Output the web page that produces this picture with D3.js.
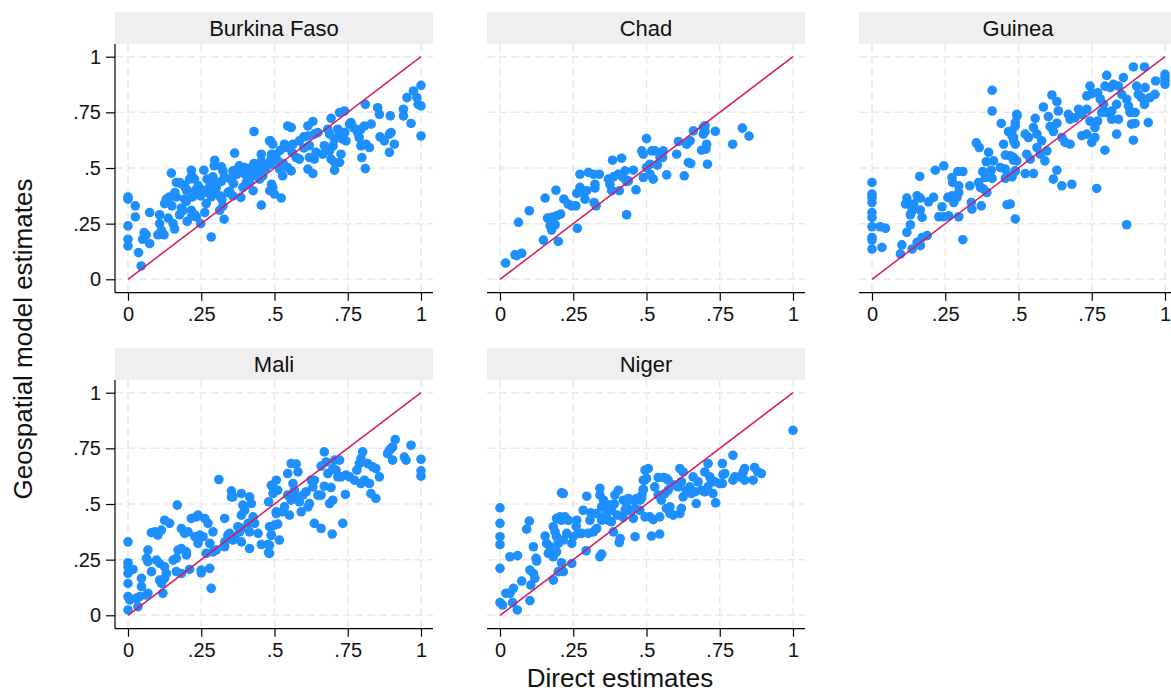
<!DOCTYPE html>
<html>
<head>
<meta charset="utf-8">
<script src="https://cdn.jsdelivr.net/npm/d3@7"></script>
<style>
  html, body { margin: 0; padding: 0; background: #fff; }
  svg { display: block; font-family: "Liberation Sans", Arial, sans-serif; }
</style>
</head>
<body>
<svg id="chart" width="1171" height="698"></svg>
<script>
// Valeurs : [estimation directe, estimation géospatiale]
const burkinaFaso = [[0,.37],[0,.36],[.025,.33],[.025,.28],[0,.24],[0,.18],[0,.15],[.036,.12],[.045,.06],[.055,.21],[.062,.2],[.05,.18],[.074,.16],[.074,.30],[.108,.29],[.108,.25],[.114,.22],[.102,.20],[.123,.2],[.137,.275],[.154,.25],[.159,.226],[.131,.36],[.125,.34],[.142,.37],[.148,.477],[.165,.435],[.176,.435],[.165,.37],[.193,.36],[.199,.35],[.182,.32],[.188,.31],[.176,.29],[.202,.26],[.216,.49],[.218,.465],[.21,.45],[.227,.45],[.193,.42],[.199,.405],[.216,.31],[.227,.29],[.233,.28],[.218,.285],[.259,.49],[.3,.43],[.256,.40],[.248,.375],[.273,.39],[.267,.34],[.262,.3],[.284,.37],[.296,.39],[.248,.25],[.284,.19],[.296,.535],[.294,.51],[.307,.435],[.319,.44],[.301,.41],[.313,.375],[.324,.33],[.313,.31],[.328,.27],[.319,.505],[.324,.487],[.341,.39],[.347,.395],[.358,.375],[.364,.567],[.358,.487],[.373,.495],[.385,.368],[.392,.413],[.398,.502],[.41,.495],[.421,.502],[.432,.48],[.404,.435],[.415,.435],[.43,.664],[.427,.398],[.455,.562],[.455,.532],[.449,.45],[.46,.465],[.455,.333],[.487,.622],[.49,.562],[.484,.525],[.49,.427],[.484,.398],[.37,.47],[.39,.48],[.44,.5],[.45,.51],[.47,.5],[.43,.52],[.35,.45],[.33,.46],[.28,.42],[.24,.42],[.2,.4],[.16,.39],[.27,.45],[.29,.46],[.36,.43],[.4,.47],[.42,.46],[.46,.49],[.38,.51],[.23,.4],[.18,.43],[.15,.33],[.22,.37],[.32,.36],
  [.483,.622],[.494,.607],[.506,.562],[.489,.547],[.489,.517],[.511,.532],[.494,.413],[.5,.383],[.523,.365],[.545,.689],[.557,.682],[.534,.607],[.545,.592],[.563,.607],[.585,.622],[.517,.495],[.528,.465],[.545,.502],[.557,.487],[.574,.547],[.585,.54],[.614,.689],[.631,.709],[.614,.644],[.619,.6],[.636,.652],[.648,.659],[.619,.547],[.642,.57],[.636,.54],[.665,.562],[.688,.577],[.614,.495],[.631,.475],[.693,.723],[.682,.674],[.688,.652],[.705,.63],[.716,.674],[.722,.652],[.733,.63],[.744,.622],[.693,.54],[.705,.525],[.722,.525],[.705,.49],[.727,.562],[.722,.749],[.739,.756],[.756,.697],[.761,.704],[.784,.659],[.795,.674],[.807,.689],[.83,.697],[.789,.637],[.795,.6],[.812,.607],[.824,.592],[.798,.547],[.81,.497],[.81,.786],[.852,.771],[.858,.741],[.875,.622],[.892,.652],[.898,.659],[.892,.57],[.909,.607],[.895,.734],[.94,.764],[.94,.734],[.966,.7],[.952,.816],[.974,.846],[.986,.816],[.99,.786],[1.0,.779],[1.0,.871],[1.0,.644],[.52,.58],[.53,.52],[.56,.57],[.6,.59],[.6,.64],[.67,.6],[.7,.6],[.74,.66],[.77,.68],[.86,.64]];

const chad = [[.019,.073],[.051,.11],[.057,.106],[.074,.117],[.063,.256],[.1,.308],[.148,.176],[.154,.365],[.162,.275],[.177,.278],[.193,.285],[.207,.293],[.171,.241],[.188,.245],[.176,.221],[.199,.17],[.191,.4],[.218,.36],[.233,.338],[.245,.33],[.259,.33],[.264,.229],[.262,.386],[.273,.413],[.284,.39],[.29,.36],[.296,.398],[.273,.472],[.302,.48],[.319,.472],[.339,.472],[.324,.427],[.324,.41],[.321,.345],[.328,.33],[.37,.45],[.375,.427],[.381,.398],[.387,.46],[.384,.535],[.415,.544],[.404,.472],[.415,.465],[.427,.487],[.438,.442],[.407,.398],[.432,.439],[.421,.457],[.455,.49],[.432,.29],[.464,.402],[.484,.577],[.489,.562],[.5,.632],[.489,.457],[.5,.502],[.512,.517],[.512,.472],[.523,.45],[.518,.577],[.529,.577],[.546,.547],[.537,.513],[.557,.577],[.555,.547],[.569,.469],[.603,.562],[.609,.619],[.637,.607],[.649,.622],[.643,.525],[.651,.52],[.629,.465],[.66,.667],[.694,.682],[.7,.664],[.694,.652],[.7,.69],[.688,.58],[.705,.607],[.703,.585],[.708,.517],[.735,.665],[.794,.607],[.827,.679],[.85,.643]];

const guinea = [[0,.435],[0,.383],[0,.368],[0,.345],[0,.3],[0,.278],[0,.236],[.028,.236],[.046,.229],[0,.188],[0,.176],[0,.136],[.034,.143],[.097,.114],[.102,.155],[.137,.136],[.154,.166],[.165,.151],[.171,.188],[.188,.196],[.119,.211],[.131,.245],[.114,.338],[.119,.365],[.137,.323],[.142,.338],[.154,.375],[.165,.365],[.131,.29],[.137,.308],[.171,.278],[.165,.311],[.163,.462],[.193,.348],[.21,.368],[.216,.49],[.245,.51],[.228,.281],[.245,.281],[.262,.285],[.239,.326],[.259,.368],[.273,.375],[.29,.368],[.279,.345],[.296,.39],[.273,.457],[.275,.435],[.293,.484],[.296,.42],[.296,.281],[.31,.178],[.31,.484],[.334,.42],[.339,.345],[.341,.315],[.373,.33],[.356,.613],[.366,.592],[.364,.435],[.37,.413],[.381,.405],[.392,.39],[.378,.484],[.387,.457],[.39,.528],[.398,.57],[.415,.532],[.407,.49],[.41,.453],[.41,.849],[.41,.756],[.441,.7],[.438,.502],[.455,.495],[.461,.465],[.455,.453],[.449,.607],[.455,.558],[.472,.555],[.461,.335],[.466,.664],[.478,.644],[.483,.622],[.489,.689],[.495,.734],[.489,.271],[.483,.535],[.489,.487],[.478,.46],
  [.472,.338],[.494,.741],[.489,.704],[.478,.667],[.483,.637],[.489,.607],[.483,.547],[.494,.532],[.478,.465],[.489,.487],[.523,.652],[.534,.637],[.528,.562],[.54,.54],[.523,.475],[.551,.475],[.557,.723],[.551,.682],[.563,.652],[.563,.592],[.574,.562],[.585,.774],[.579,.622],[.59,.532],[.597,.577],[.602,.731],[.608,.686],[.619,.664],[.631,.701],[.614,.828],[.631,.798],[.636,.756],[.631,.49],[.619,.45],[.648,.42],[.682,.427],[.648,.637],[.659,.615],[.676,.607],[.67,.741],[.676,.719],[.693,.726],[.705,.764],[.716,.741],[.733,.764],[.744,.711],[.716,.645],[.733,.652],[.75,.615],[.761,.637],[.744,.868],[.733,.824],[.75,.834],[.77,.838],[.779,.81],[.761,.682],[.77,.711],[.784,.749],[.767,.408],[.795,.58],[.801,.916],[.795,.868],[.813,.861],[.824,.876],[.841,.868],[.858,.906],[.79,.786],[.801,.749],[.818,.756],[.835,.786],[.818,.719],[.841,.719],[.835,.652],[.852,.831],[.869,.809],[.875,.779],[.881,.756],[.869,.245],[.892,.954],[.93,.954],[.886,.697],[.898,.7],[.892,.625],[.903,.868],[.909,.831],[.92,.816],[.932,.861],[.898,.749],[.881,.749],[.93,.786],[.943,.704],[.949,.816],[.966,.831],[.968,.891],[1,.921],[1,.906],[1,.891],[1,.876]];

const mali = [[0,.33],[0,.236],[0,.218],[0,.188],[.017,.206],[0,.143],[0,.084],[.006,.069],[0,.024],[.028,.076],[.04,.084],[.034,.039],[.046,.166],[.046,.129],[.068,.099],[.063,.091],[.068,.293],[.063,.256],[.068,.241],[.08,.196],[.08,.371],[.091,.375],[.102,.36],[.114,.383],[.125,.427],[.142,.413],[.097,.248],[.108,.233],[.125,.218],[.131,.188],[.125,.166],[.108,.158],[.114,.143],[.119,.099],[.168,.495],[.154,.248],[.165,.256],[.171,.293],[.182,.3],[.199,.285],[.199,.271],[.165,.196],[.182,.188],[.182,.39],[.193,.368],[.205,.375],[.21,.206],[.216,.435],[.233,.442],[.239,.45],[.228,.353],[.239,.323],[.245,.36],[.256,.353],[.25,.203],[.25,.191],[.262,.435],[.273,.413],[.29,.375],[.267,.278],[.279,.323],[.279,.211],[.284,.121],[.29,.285],[.301,.293],[.33,.308],[.33,.33],[.31,.61],[.33,.435],[.341,.36],[.347,.368],[.358,.338],[.364,.353],[.353,.559],[.353,.532],[.358,.532],[.375,.398],[.381,.375],[.387,.39],[.387,.33],[.387,.547],[.392,.495],[.387,.45],[.398,.472],[.415,.532],[.421,.502],[.41,.413],[.415,.375],[.415,.3],[.427,.442],[.432,.413],[.444,.368],[.455,.318],[.478,.318],[.48,.281],[.48,.51],[.489,.584],[.495,.547],[.489,.398],[.489,.36],
  [.483,.398],[.489,.36],[.483,.315],[.483,.278],[.5,.405],[.511,.41],[.517,.338],[.506,.607],[.494,.577],[.511,.562],[.506,.465],[.506,.457],[.528,.465],[.534,.487],[.545,.637],[.557,.682],[.574,.679],[.58,.644],[.563,.592],[.568,.562],[.545,.54],[.551,.45],[.557,.517],[.574,.532],[.585,.51],[.591,.465],[.597,.54],[.608,.555],[.614,.487],[.619,.502],[.625,.607],[.631,.577],[.636,.607],[.636,.413],[.659,.39],[.697,.365],[.648,.54],[.659,.54],[.67,.58],[.693,.574],[.659,.67],[.67,.734],[.676,.689],[.682,.637],[.699,.659],[.688,.502],[.699,.517],[.705,.697],[.71,.652],[.722,.697],[.727,.622],[.733,.413],[.716,.622],[.744,.63],[.756,.622],[.742,.543],[.773,.607],[.781,.652],[.79,.682],[.795,.704],[.801,.734],[.795,.592],[.807,.607],[.818,.682],[.824,.592],[.829,.547],[.846,.525],[.835,.667],[.846,.659],[.858,.622],[.886,.726],[.898,.749],[.903,.697],[.912,.789],[.892,.741],[.903,.756],[.943,.711],[.949,.697],[.966,.764],[1.0,.701],[1.0,.649],[1.0,.625]];

const niger = [[0,.483],[0,.413],[0,.353],[0,.318],[0,.211],[0,.057],[.009,.046],[.02,.099],[.034,.099],[.046,.121],[.034,.263],[.06,.268],[.043,.057],[.059,.024],[.074,.154],[.091,.387],[.1,.423],[.102,.066],[.105,.136],[.102,.203],[.114,.188],[.119,.166],[.114,.308],[.123,.256],[.125,.244],[.154,.356],[.159,.323],[.171,.308],[.165,.278],[.182,.158],[.199,.196],[.21,.236],[.216,.196],[.182,.398],[.188,.375],[.193,.435],[.205,.442],[.21,.427],[.222,.442],[.21,.55],[.216,.547],[.193,.353],[.199,.323],[.193,.285],[.182,.263],[.216,.338],[.228,.368],[.233,.427],[.245,.233],[.245,.323],[.25,.353],[.262,.427],[.267,.368],[.279,.368],[.284,.472],[.296,.535],[.301,.368],[.294,.29],[.307,.427],[.319,.375],[.33,.39],[.33,.457],[.341,.57],[.341,.54],[.347,.487],[.347,.427],[.341,.263],[.347,.275],[.353,.517],[.364,.457],[.37,.427],[.375,.495],[.381,.472],[.387,.375],[.392,.54],[.404,.562],[.41,.345],[.407,.327],[.421,.517],[.427,.472],[.432,.487],[.438,.525],[.455,.517],[.466,.525],[.478,.517],[.484,.54],[.455,.435],[.461,.353],[.461,.48],[.489,.607],[.495,.652],[.489,.565],[.495,.442],[.36,.5],[.37,.48],[.39,.5],[.4,.45],[.42,.44],[.35,.44],[.38,.42],[.31,.46],[.44,.47],[.26,.4],
  [.477,.472],[.483,.525],[.489,.565],[.506,.659],[.5,.615],[.494,.607],[.528,.577],[.54,.619],[.557,.619],[.568,.615],[.574,.607],[.511,.442],[.523,.43],[.545,.442],[.517,.356],[.545,.365],[.54,.54],[.551,.517],[.563,.547],[.574,.562],[.568,.48],[.58,.487],[.58,.457],[.591,.45],[.614,.457],[.619,.48],[.585,.585],[.597,.585],[.608,.577],[.619,.6],[.614,.659],[.625,.644],[.625,.532],[.636,.562],[.648,.577],[.659,.622],[.653,.547],[.665,.555],[.67,.502],[.676,.6],[.687,.562],[.699,.555],[.71,.577],[.699,.644],[.71,.682],[.716,.622],[.722,.607],[.727,.547],[.736,.505],[.733,.6],[.75,.592],[.759,.592],[.761,.632],[.759,.682],[.767,.637],[.795,.719],[.795,.607],[.801,.622],[.818,.622],[.83,.644],[.835,.659],[.835,.607],[.864,.607],[.869,.664],[.88,.644],[.892,.637],[1.0,.831]];

const countries = ["Burkina Faso", "Chad", "Guinea", "Mali", "Niger"];
const seriesList = [burkinaFaso, chad, guinea, mali, niger];
const tickValues = [0, .25, .5, .75, 1];
const tickLabels = ["0", ".25", ".5", ".75", "1"];

const svg = d3.select("#chart");
const panelW = 318, headerH = 32;
const colLeft = [115, 487, 859];
const rowTop = [12, 348];

const gridColor = "#e9e9e9";
const dotColor = "#1e8fff";
const lineColor = "#d71a5e";
const fontFam = "'Liberation Sans', Arial, sans-serif";

countries.forEach((name, i) => {
    const col = i % 3, row = Math.floor(i / 3);
    const left = colLeft[col], top = rowTop[row];
    const plotTop = top + headerH;
    const axisY = plotTop + 248.7;

    const x = d3.scaleLinear().domain([0, 1]).range([left + 13, left + 306]);
    const y = d3.scaleLinear().domain([0, 1]).range([plotTop + 235.3, plotTop + 12.7]);

    const g = svg.append("g");

    // bandeau du titre
    g.append("rect")
        .attr("x", left).attr("y", top)
        .attr("width", panelW).attr("height", headerH)
        .attr("fill", "#efefef");
    g.append("text")
        .attr("x", left + panelW / 2).attr("y", top + headerH / 2)
        .attr("dy", "0.36em")
        .attr("text-anchor", "middle")
        .style("font-size", "22px")
        .style("fill", "#111")
        .text(name);

    // grille en pointillés
    g.append("g").selectAll("line").data(tickValues).join("line")
        .attr("x1", left).attr("x2", left + panelW)
        .attr("y1", d => y(d)).attr("y2", d => y(d))
        .attr("stroke", gridColor).attr("stroke-width", 1.5)
        .attr("stroke-dasharray", "8,4");
    g.append("g").selectAll("line").data(tickValues).join("line")
        .attr("y1", plotTop).attr("y2", axisY)
        .attr("x1", d => x(d)).attr("x2", d => x(d))
        .attr("stroke", gridColor).attr("stroke-width", 1.5)
        .attr("stroke-dasharray", "8,4");

    // axe x
    const xAxis = g.append("g")
        .attr("transform", `translate(0,${axisY})`)
        .call(d3.axisBottom(x).tickValues(tickValues).tickFormat((d, k) => tickLabels[k])
            .tickSize(8).tickSizeOuter(0).tickPadding(6));
    xAxis.select(".domain").attr("d", `M${left},0H${left + panelW}`).attr("stroke", "#000").attr("stroke-width", 1.2);
    xAxis.selectAll(".tick line").attr("stroke", "#000").attr("stroke-width", 1.2);
    xAxis.selectAll(".tick text").style("font-size", "20px").attr("fill", "#111")
        .style("font-family", fontFam);

    // axe y (première colonne seulement)
    if (col === 0) {
        const yAxis = g.append("g")
            .attr("transform", `translate(${left},0)`)
            .call(d3.axisLeft(y).tickValues(tickValues).tickFormat((d, k) => tickLabels[k])
                .tickSize(9).tickSizeOuter(0).tickPadding(5));
        yAxis.select(".domain").attr("d", `M0,${plotTop}V${axisY}`).attr("stroke", "#000").attr("stroke-width", 1.2);
        yAxis.selectAll(".tick line").attr("stroke", "#000").attr("stroke-width", 1.2);
        yAxis.selectAll(".tick text").style("font-size", "20px").attr("fill", "#111")
            .style("font-family", fontFam);
    }

    // points
    g.append("g").selectAll("circle").data(seriesList[i]).join("circle")
        .attr("cx", d => x(d[0]))
        .attr("cy", d => y(d[1]))
        .attr("r", 4.8)
        .attr("fill", dotColor);

    // droite y = x
    g.append("line")
        .attr("x1", x(0)).attr("y1", y(0))
        .attr("x2", x(1)).attr("y2", y(1))
        .attr("stroke", lineColor).attr("stroke-width", 1.5);
});

svg.append("text")
    .attr("transform", "translate(32,339) rotate(-90)")
    .attr("text-anchor", "middle")
    .style("font-size", "26px")
    .style("fill", "#111")
    .text("Geospatial model estimates");

svg.append("text")
    .attr("x", 620).attr("y", 687)
    .attr("text-anchor", "middle")
    .style("font-size", "26px")
    .style("fill", "#111")
    .text("Direct estimates");
</script>
</body>
</html>
